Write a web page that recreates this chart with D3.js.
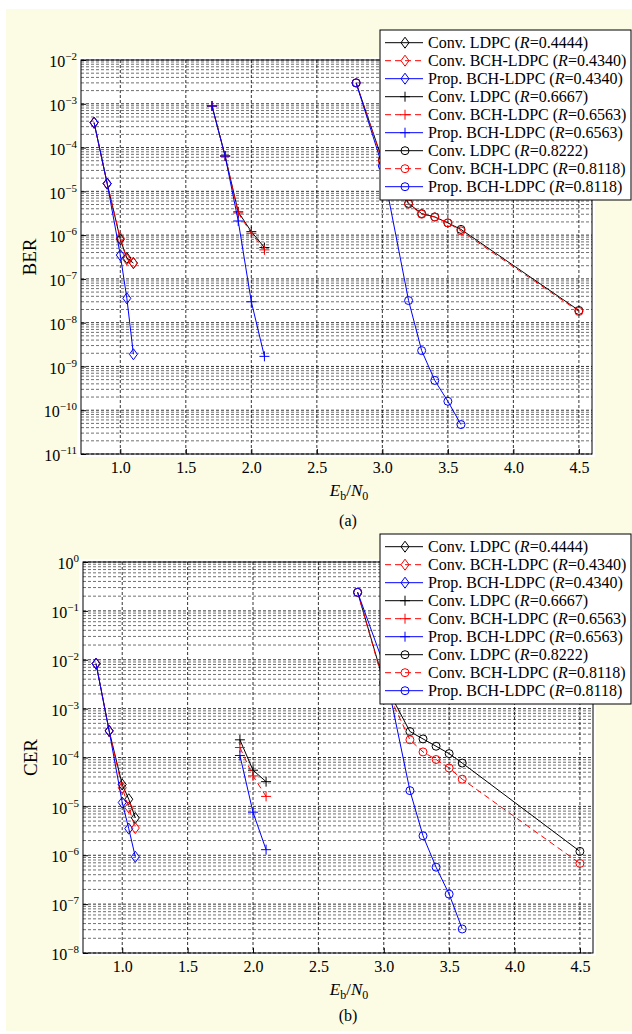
<!DOCTYPE html>
<html>
<head>
<meta charset="utf-8">
<script src="https://cdn.jsdelivr.net/npm/d3@7"></script>
<style>
  body { margin: 0; background: #fff; }
  svg text { font-family: "Liberation Serif", "Times New Roman", serif; fill: #000; }
</style>
</head>
<body>
<div id="chart"></div>
<script>
// Eb/N0 values (dB)
var ebLow = [0.8, 0.9, 1.0, 1.05, 1.1];
var ebMidBer = [1.7, 1.8, 1.9, 2.0, 2.1];
var ebMidCer = [1.9, 2.0, 2.1];
var ebHigh = [2.8, 3.0, 3.2, 3.3, 3.4, 3.5, 3.6, 4.5];
var ebHighProp = [2.8, 3.0, 3.2, 3.3, 3.4, 3.5, 3.6];
var xTicks = [1.0, 1.5, 2.0, 2.5, 3.0, 3.5, 4.0, 4.5];

// (a) BER
var berConv4444 = [3.7e-4, 1.5e-5, 8.0e-7, 3.0e-7, 2.3e-7];
var berConvBch4340 = [3.7e-4, 1.5e-5, 8.5e-7, 2.8e-7, 2.3e-7];
var berProp4340 = [3.7e-4, 1.5e-5, 3.5e-7, 3.6e-8, 1.9e-9];
var berConv6667 = [8.9e-4, 6.4e-5, 3.4e-6, 1.2e-6, 5.2e-7];
var berConvBch6563 = [8.9e-4, 6.4e-5, 3.2e-6, 1.1e-6, 4.6e-7];
var berProp6563 = [8.9e-4, 6.4e-5, 2.1e-6, 3.0e-8, 1.7e-9];
var berConv8222 = [3e-3, 5.2e-5, 5.3e-6, 3.1e-6, 2.6e-6, 1.9e-6, 1.35e-6, 1.9e-8];
var berConvBch8118 = [3e-3, 5.0e-5, 5.1e-6, 3.0e-6, 2.6e-6, 1.9e-6, 1.25e-6, 1.8e-8];
var berProp8118 = [3e-3, 3.8e-5, 3.2e-8, 2.3e-9, 4.8e-10, 1.6e-10, 4.7e-11];

// (b) CER
var cerConv4444 = [8.3e-3, 3.5e-4, 2.8e-5, 1.4e-5, 5.8e-6];
var cerConvBch4340 = [8.3e-3, 3.5e-4, 2.4e-5, 9.5e-6, 3.6e-6];
var cerProp4340 = [8.3e-3, 3.5e-4, 1.2e-5, 3.5e-6, 9.3e-7];
var cerConv6667 = [2.3e-4, 5.5e-5, 3.2e-5];
var cerConvBch6563 = [1.6e-4, 4.2e-5, 1.6e-5];
var cerProp6563 = [1.1e-4, 7.6e-6, 1.3e-6];
var cerConv8222 = [0.24, 3.5e-3, 3.4e-4, 2.4e-4, 1.7e-4, 1.2e-4, 7.7e-5, 1.2e-6];
var cerConvBch8118 = [0.24, 3.2e-3, 2.3e-4, 1.3e-4, 9.1e-5, 6.1e-5, 3.6e-5, 6.8e-7];
var cerProp8118 = [0.24, 8e-3, 2.1e-5, 2.5e-6, 5.7e-7, 1.6e-7, 3.1e-8];

var legendNames = ['Conv. LDPC', 'Conv. BCH-LDPC', 'Prop. BCH-LDPC',
  'Conv. LDPC', 'Conv. BCH-LDPC', 'Prop. BCH-LDPC',
  'Conv. LDPC', 'Conv. BCH-LDPC', 'Prop. BCH-LDPC'];
var legendRates = ['0.4444', '0.4340', '0.4340', '0.6667', '0.6563', '0.6563', '0.8222', '0.8118', '0.8118'];

// styles per series
var colors = ['#000', '#f00', '#00f'];
var dashes = [null, '6,4', null];
var markers = ['diamond', 'plus', 'circle'];

var berSeries = [
  [ebLow, berConv4444], [ebLow, berConvBch4340], [ebLow, berProp4340],
  [ebMidBer, berConv6667], [ebMidBer, berConvBch6563], [ebMidBer, berProp6563],
  [ebHigh, berConv8222], [ebHigh, berConvBch8118], [ebHighProp, berProp8118]
];
var cerSeries = [
  [ebLow, cerConv4444], [ebLow, cerConvBch4340], [ebLow, cerProp4340],
  [ebMidCer, cerConv6667], [ebMidCer, cerConvBch6563], [ebMidCer, cerProp6563],
  [ebHigh, cerConv8222], [ebHigh, cerConvBch8118], [ebHighProp, cerProp8118]
];

var svg = d3.select('#chart').append('svg')
  .attr('width', 632)
  .attr('height', 1034);

svg.append('rect')
  .attr('x', 6).attr('y', 9)
  .attr('width', 626).attr('height', 1022)
  .attr('fill', '#fcfbe3');

function drawMarker(g, type, color) {
  if (type === 'circle') {
    g.append('circle').attr('r', 4).attr('fill', 'none').attr('stroke', color).attr('stroke-width', 1);
  } else if (type === 'diamond') {
    g.append('path').attr('d', 'M0,-5.5L4,0L0,5.5L-4,0Z').attr('fill', 'none').attr('stroke', color).attr('stroke-width', 1);
  } else {
    g.append('path').attr('d', 'M-5,0H5M0,-5V5').attr('fill', 'none').attr('stroke', color).attr('stroke-width', 1);
  }
}

function drawPanel(p) {
  var x = d3.scaleLinear().domain([0.7, 4.6]).range([p.left, p.right]);
  var y = d3.scaleLog().domain(p.yDomain).range([p.bottom, p.top]);
  var decades = d3.range(Math.log10(p.yDomain[0]), Math.log10(p.yDomain[1]) + 1).map(function (e) { return Math.pow(10, e); });
  var minors = [];
  decades.slice(0, -1).forEach(function (d) {
    for (var k = 2; k < 10; k++) minors.push(d * k);
  });

  var g = svg.append('g');

  g.append('rect')
    .attr('x', p.left - 4).attr('y', p.top - 3)
    .attr('width', p.right - p.left + 7).attr('height', p.bottom - p.top + 6)
    .attr('fill', '#fff');

  // grid
  g.selectAll('.minor').data(minors).enter().append('line')
    .attr('x1', p.left).attr('x2', p.right)
    .attr('y1', function (d) { return y(d); }).attr('y2', function (d) { return y(d); })
    .attr('stroke', '#333').attr('stroke-width', 0.7).attr('stroke-dasharray', '3,2');
  g.selectAll('.major').data(decades).enter().append('line')
    .attr('x1', p.left).attr('x2', p.right)
    .attr('y1', function (d) { return y(d); }).attr('y2', function (d) { return y(d); })
    .attr('stroke', '#000').attr('stroke-width', 0.8).attr('stroke-dasharray', '3,2');
  g.selectAll('.vgrid').data(xTicks).enter().append('line')
    .attr('x1', function (d) { return x(d); }).attr('x2', function (d) { return x(d); })
    .attr('y1', p.top).attr('y2', p.bottom)
    .attr('stroke', '#000').attr('stroke-width', 0.8).attr('stroke-dasharray', '3,2');

  // axes
  var xAxis = g.append('g')
    .attr('transform', 'translate(0,' + p.bottom + ')')
    .call(d3.axisBottom(x).tickValues(xTicks).tickFormat(d3.format('.1f')).tickSizeInner(-5).tickSizeOuter(0));
  xAxis.selectAll('text')
    .attr('y', 19).attr('dy', 0)
    .style('font-size', '16px');

  var yAxis = g.append('g')
    .attr('transform', 'translate(' + p.left + ',0)')
    .call(d3.axisLeft(y).tickValues(decades).tickFormat(function () { return ''; }).tickSizeInner(-5).tickSizeOuter(0).tickPadding(4));
  yAxis.selectAll('.tick text').each(function (d) {
    var t = d3.select(this).attr('dy', '0.42em').style('font-size', '16px');
    var e = Math.round(Math.log10(d));
    t.append('tspan').text('10');
    t.append('tspan').attr('dy', -7).style('font-size', '11px').text(e < 0 ? '\u2212' + (-e) : String(e));
  });
  g.selectAll('.domain').remove();

  g.append('rect')
    .attr('x', p.left).attr('y', p.top)
    .attr('width', p.right - p.left).attr('height', p.bottom - p.top)
    .attr('fill', 'none').attr('stroke', '#000').attr('stroke-width', 1);

  // series
  var line = d3.line()
    .x(function (d) { return x(d.x); })
    .y(function (d) { return y(d.y); });

  p.series.forEach(function (s, i) {
    var pts = s[1].map(function (v, j) { return { x: s[0][j], y: v }; });
    var color = colors[i % 3];
    g.append('path')
      .datum(pts)
      .attr('d', line)
      .attr('fill', 'none')
      .attr('stroke', color)
      .attr('stroke-width', 1)
      .attr('stroke-dasharray', dashes[i % 3]);
    g.selectAll('.m' + i).data(pts).enter().append('g')
      .attr('transform', function (d) { return 'translate(' + x(d.x) + ',' + y(d.y) + ')'; })
      .each(function () { drawMarker(d3.select(this), markers[Math.floor(i / 3)], color); });
  });

  // labels
  g.append('text')
    .attr('transform', 'translate(' + p.yLabelX + ',' + ((p.top + p.bottom) / 2) + ') rotate(-90)')
    .attr('text-anchor', 'middle')
    .style('font-size', '19px')
    .text(p.yLabel);

  var xl = g.append('text')
    .attr('x', 349).attr('y', p.bottom + 42)
    .attr('text-anchor', 'middle')
    .style('font-size', '17px');
  xl.append('tspan').style('font-style', 'italic').text('E');
  xl.append('tspan').attr('dy', 4).style('font-size', '12px').text('b');
  xl.append('tspan').attr('dy', -4).text('/');
  xl.append('tspan').style('font-style', 'italic').text('N');
  xl.append('tspan').attr('dy', 4).style('font-size', '12px').text('0');

  g.append('text')
    .attr('x', 348).attr('y', p.captionY)
    .attr('text-anchor', 'middle')
    .style('font-size', '16px')
    .text(p.caption);

  // legend
  var lg = g.append('g').attr('transform', 'translate(380,' + p.legendTop + ')');
  lg.append('rect')
    .attr('width', 251).attr('height', 170)
    .attr('fill', '#fff').attr('stroke', '#000').attr('stroke-width', 1);
  legendNames.forEach(function (name, i) {
    var row = lg.append('g').attr('transform', 'translate(0,' + (12.7 + i * 18) + ')');
    var color = colors[i % 3];
    row.append('line')
      .attr('x1', 5).attr('x2', 43)
      .attr('stroke', color).attr('stroke-width', 1)
      .attr('stroke-dasharray', dashes[i % 3]);
    drawMarker(row.append('g').attr('transform', 'translate(25,0)'), markers[Math.floor(i / 3)], color);
    var t = row.append('text').attr('x', 48).attr('dy', '0.36em').style('font-size', '16px');
    t.append('tspan').text(name + ' (');
    t.append('tspan').style('font-style', 'italic').text('R');
    t.append('tspan').text('=' + legendRates[i] + ')');
  });
}

drawPanel({
  top: 60, bottom: 454, left: 81, right: 592,
  yDomain: [1e-11, 1e-2], series: berSeries,
  yLabel: 'BER', yLabelX: 36,
  caption: '(a)', captionY: 526, legendTop: 30
});

drawPanel({
  top: 562, bottom: 953, left: 83, right: 593,
  yDomain: [1e-8, 1], series: cerSeries,
  yLabel: 'CER', yLabelX: 37,
  caption: '(b)', captionY: 1021, legendTop: 534
});
</script>
</body>
</html>
